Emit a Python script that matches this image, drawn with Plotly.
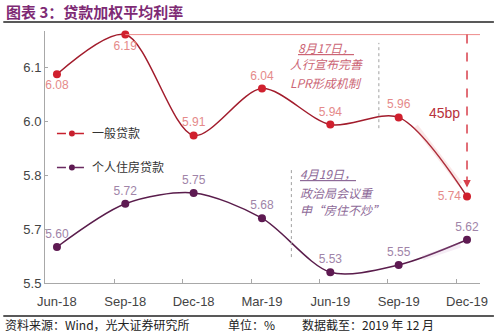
import plotly.graph_objects as go

categories = ["Jun-18", "Sep-18", "Dec-18", "Mar-19", "Jun-19", "Sep-19", "Dec-19"]
general = [6.08, 6.19, 5.91, 6.04, 5.94, 5.96, 5.74]
housing = [5.60, 5.72, 5.75, 5.68, 5.53, 5.55, 5.62]
ytick_vals = [5.5, 5.65, 5.8, 5.95, 6.1]
ytick_text = ["5.5", "5.7", "5.8", "6.0", "6.1"]

xi = list(range(len(categories)))
CJK = "Noto Sans CJK SC"
LAT = "Liberation Sans, Arial"

# plot area in pixels
L, R, T, B = 45, 483, 31, 283


def px(x):
    return (x - L) / (R - L)


def py(y):
    return (B - y) / (B - T)


gen_pos = ["bottom center", "bottom center", "top center", "top center", "top center", "top center", "middle left"]
hou_pos = ["top center"] * 7

fig = go.Figure()
fig.add_trace(go.Scatter(
    x=xi, y=general, mode="lines+markers+text",
    line=dict(color="#A21C2C", width=1.5, shape="spline", smoothing=0.85),
    marker=dict(color="#D0202E", size=8), text=[f"{v:.2f}" for v in general], textposition=gen_pos,
    textfont=dict(color="#E58A8A", size=12, family=LAT), showlegend=False, cliponaxis=False))
fig.add_trace(go.Scatter(
    x=xi, y=housing, mode="lines+markers+text",
    line=dict(color="#5A1D4C", width=1.5, shape="spline", smoothing=0.85),
    marker=dict(color="#5E1A52", size=8), text=[f"{v:.2f}" for v in housing], textposition=hou_pos,
    textfont=dict(color="#A084A8", size=12, family=LAT), showlegend=False, cliponaxis=False))
# legend entries
fig.add_trace(go.Scatter(x=[None], y=[None], mode="lines+markers", name="一般贷款", legendgroup="a",
                         line=dict(color="#C8202E", width=1.5, dash="dash"), marker=dict(color="#C8202E", size=6)))
fig.add_trace(go.Scatter(x=[None], y=[None], mode="lines+markers", name="个人住房贷款", legendgroup="b",
                         line=dict(color="#6A2A60", width=1.5, dash="dash"), marker=dict(color="#5E1A52", size=6)))
fig.add_trace(go.Scatter(x=[None], y=[None], xaxis="x2", showlegend=False))

fig.update_layout(
    width=500, height=334, margin=dict(l=L, r=500 - R, t=T, b=334 - B),
    paper_bgcolor="white", plot_bgcolor="white",
    font=dict(family=CJK, color="#333"),
    xaxis=dict(range=[-0.175, 6.19], tickvals=xi, ticktext=categories, ticks="", showgrid=False,
               showline=True, linecolor="#A8A8A8", linewidth=1, zeroline=False, ticklabelstandoff=6,
               tickfont=dict(family=LAT, size=13, color="#444")),
    xaxis2=dict(range=[-0.175, 6.19], overlaying="x", anchor="y", side="bottom",
                tickvals=[i - 0.16 for i in xi if i > 0], showticklabels=False, ticks="inside",
                ticklen=4, tickcolor="#A8A8A8", showgrid=False, showline=False, zeroline=False),
    yaxis=dict(range=[5.5, 6.2], tickvals=ytick_vals, ticktext=ytick_text, showgrid=False,
               showline=True, linecolor="#A8A8A8", linewidth=1, zeroline=False,
               ticks="inside", ticklen=3, tickcolor="#A8A8A8",
               tickfont=dict(family=LAT, size=13, color="#444")),
    legend=dict(x=px(52), y=py(119), xanchor="left", yanchor="top", bgcolor="rgba(0,0,0,0)",
                font=dict(family=CJK, size=12, color="#333"), tracegroupgap=15, itemwidth=30),
    showlegend=True,
)

# reference line at Sep-18 level
fig.add_shape(type="line", xref="x", yref="y", x0=1, x1=6.19, y0=general[1], y1=general[1],
              line=dict(color="#EE8C8C", width=1))
# faint highlight arrows on the last segments
fig.add_shape(type="line", xref="x", yref="y", x0=5.25, x1=5.9, y0=5.935, y1=5.775,
              line=dict(color="rgba(230,120,120,0.18)", width=5))
fig.add_shape(type="line", xref="x", yref="y", x0=5.35, x1=5.9, y0=5.57, y1=5.605,
              line=dict(color="rgba(200,150,200,0.18)", width=5))
# dashed drop at Dec-19
fig.add_shape(type="line", xref="x", yref="y", x0=6, x1=6, y0=general[1], y1=general[6] + 0.05,
              line=dict(color="#D8404C", width=1.5, dash="dash"))
fig.add_annotation(x=6, y=general[6] + 0.025, ax=6, ay=general[6] + 0.06, xref="x", yref="y",
                   axref="x", ayref="y", showarrow=True, arrowhead=2, arrowsize=1, arrowwidth=1.5,
                   arrowcolor="#D8404C", text="")
fig.add_annotation(x=5.67, y=5.972, xref="x", yref="y", text="45bp", showarrow=False,
                   font=dict(family=LAT, size=14, color="#B8323C"))
# dotted event lines
fig.add_shape(type="line", xref="x", yref="y", x0=4.71, x1=4.71, y0=5.93, y1=6.167,
              line=dict(color="#A0A0A0", width=1, dash="dot"))
fig.add_shape(type="line", xref="x", yref="y", x0=3.43, x1=3.43, y0=5.572, y1=5.814,
              line=dict(color="#A0A0A0", width=1, dash="dot"))

c1 = "#CC6575"
for txt, yv in [("<u><i>8月17日，</i></u>", 6.155), ("<i>人行宣布完善</i>", 6.11), ("<i>LPR形成机制</i>", 6.057)]:
    fig.add_annotation(x=3.94, y=yv, xref="x", yref="y", text=txt, showarrow=False,
                       font=dict(family=CJK, size=12, color=c1))
c2 = "#8E6A98"
for txt, yv in [("<u><i>4月19日，</i></u>", 5.805), ("<i>政治局会议重</i>", 5.752), ("<i>申“房住不炒”</i>", 5.705)]:
    fig.add_annotation(x=3.52, y=yv, xref="x", yref="y", text=txt, showarrow=False, xanchor="left",
                       font=dict(family=CJK, size=12, color=c2))

# title and footer (paper coords are relative to the plot area)
fig.add_annotation(x=px(4), y=py(11), xref="paper", yref="paper", xanchor="left", yanchor="middle",
                   text="<b>图表 3：贷款加权平均利率</b>", showarrow=False,
                   font=dict(family=CJK, size=15, color="#7E2A74"))
fig.add_shape(type="line", xref="paper", yref="paper", x0=px(3), x1=px(497),
              y0=py(22), y1=py(22), line=dict(color="#222", width=1.5))
fig.add_shape(type="line", xref="paper", yref="paper", x0=px(3), x1=px(497),
              y0=py(316), y1=py(316), line=dict(color="#222", width=1.5))
FY = 324.5
fig.add_annotation(x=px(4), y=py(FY), xref="paper", yref="paper", xanchor="left", yanchor="middle",
                   text="资料来源：Wind，光大证券研究所", showarrow=False, borderpad=0,
                   font=dict(family=CJK, size=12, color="#222"))
fig.add_annotation(x=px(228), y=py(FY), xref="paper", yref="paper", xanchor="left", yanchor="middle",
                   text="单位：%", showarrow=False, borderpad=0, font=dict(family=CJK, size=12, color="#222"))
fig.add_annotation(x=px(303), y=py(FY), xref="paper", yref="paper", xanchor="left", yanchor="middle",
                   text="数据截至：2019 年 12 月", showarrow=False, borderpad=0,
                   font=dict(family=CJK, size=12, color="#222"))

fig.write_html("out.html")
